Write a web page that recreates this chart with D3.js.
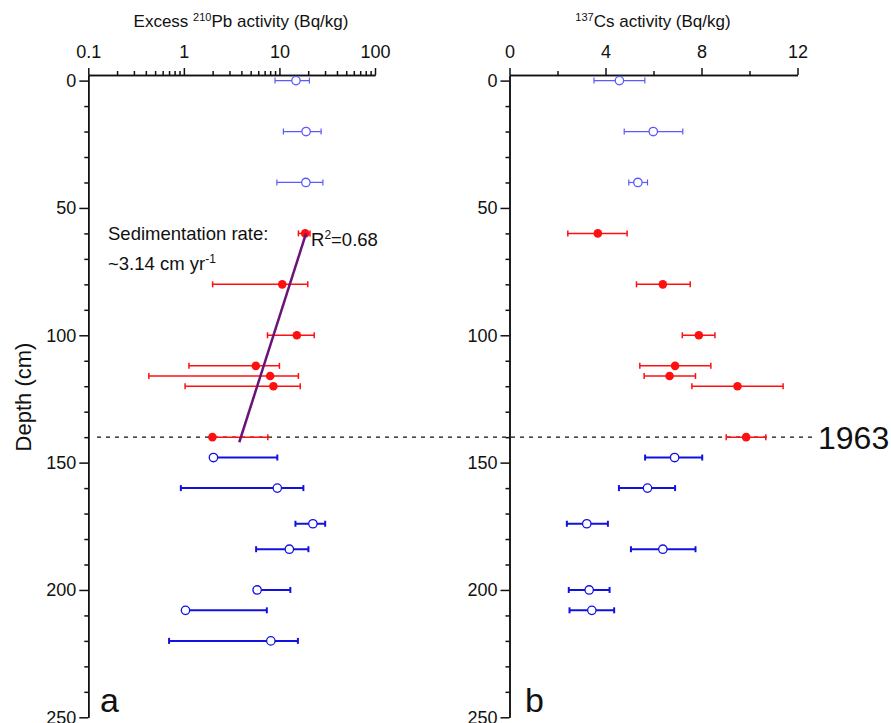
<!DOCTYPE html>
<html>
<head>
<meta charset="utf-8">
<script src="https://cdn.jsdelivr.net/npm/d3@7"></script>
<style>
  body { margin: 0; background: #fff; }
  text { font-family: "Liberation Sans", Arial, sans-serif; fill: #111; }
</style>
</head>
<body>
<svg id="chart" width="891" height="723"></svg>
<script>
// ---- data ----
// excess 210Pb (log scale), depth in cm
var pbDepth = [0, 20, 40, 60, 80, 100, 112, 116, 120, 140, 148, 160, 174, 184, 200, 208, 220];
var pbVal   = [14.9, 19.0, 18.9, 18.6, 10.7, 15.2, 5.66, 8.0, 8.65, 1.99, 2.04, 9.5, 22.4, 12.7, 5.84, 1.04, 8.13];
var pbLo    = [9.0, 11.0, 9.4, 15.8, 2.0, 7.5, 1.13, 0.43, 1.03, 1.99, 2.04, 0.93, 14.7, 5.7, 5.84, 1.04, 0.70];
var pbHi    = [20.6, 27.3, 28.5, 20.9, 19.8, 23.1, 10.0, 15.8, 16.5, 7.56, 9.5, 17.8, 30.1, 20.1, 13.0, 7.38, 15.6];
var pbGroup = ["top", "top", "top", "red", "red", "red", "red", "red", "red", "red",
               "low", "low", "low", "low", "low", "low", "low"];

// 137Cs (linear scale)
var csDepth = [0, 20, 40, 60, 80, 100, 112, 116, 120, 140, 148, 160, 174, 184, 200, 208];
var csVal   = [4.58, 5.99, 5.35, 3.68, 6.39, 7.89, 6.90, 6.67, 9.5, 9.86, 6.88, 5.75, 3.22, 6.39, 3.32, 3.43];
var csLo    = [3.52, 4.78, 4.97, 2.43, 5.29, 7.2, 5.43, 5.61, 7.6, 9.03, 5.65, 4.56, 2.39, 5.06, 2.47, 2.5];
var csHi    = [5.64, 7.22, 5.75, 4.90, 7.53, 8.56, 8.39, 7.75, 11.4, 10.68, 8.03, 6.9, 4.1, 7.75, 4.17, 4.36];
var csGroup = ["top", "top", "top", "red", "red", "red", "red", "red", "red", "red",
               "low", "low", "low", "low", "low", "low"];

// fitted line for sedimentation rate
var fitDepth = [60, 142];
var fitPb = [19.0, 3.8];

var pbTicks = [0.1, 1, 10, 100];
var csTicks = [0, 4, 8, 12];
var depthTicks = [0, 50, 100, 150, 200, 250];
var year1963 = 140;

var COLORS = { top: "#5a5aff", red: "#ff1010", low: "#1212e0" };
var BAR_W = { top: 1.2, red: 1.5, low: 2 };

var svg = d3.select("#chart");
svg.append("rect").attr("width", 891).attr("height", 723).attr("fill", "#fff");

var y = d3.scaleLinear().domain([-2.2, 250]).range([75, 717.3]);
var xPb = d3.scaleLog().domain([0.1, 100]).range([88.3, 375]);
var xCs = d3.scaleLinear().domain([0, 12]).range([509.5, 797.5]);

function styleAxis(sel) {
  sel.selectAll("path, line").attr("stroke", "#111").attr("stroke-width", 1.5);
  sel.selectAll("text").style("font-size", "18px").attr("fill", "#111");
}

function drawFrame(x, x0, minorX, majorX, fmt) {
  // top axis, minor then major
  svg.append("g").attr("transform", "translate(0,75)")
    .call(d3.axisTop(x).tickValues(minorX).tickSize(4).tickSizeOuter(0).tickFormat(""))
    .call(styleAxis);
  svg.append("g").attr("transform", "translate(0,75)")
    .call(d3.axisTop(x).tickValues(majorX).tickSize(7).tickSizeOuter(0).tickPadding(10).tickFormat(fmt))
    .call(styleAxis);
  // left axis
  var minorY = d3.range(0, 251, 10).filter(function(d) { return d % 50 !== 0; });
  svg.append("g").attr("transform", "translate(" + x0 + ",0)")
    .call(d3.axisLeft(y).tickValues(minorY).tickSize(4).tickSizeOuter(0).tickFormat(""))
    .call(styleAxis);
  svg.append("g").attr("transform", "translate(" + x0 + ",0)")
    .call(d3.axisLeft(y).tickValues(depthTicks).tickSize(9).tickSizeOuter(0).tickPadding(3))
    .call(styleAxis);
}

function drawPoints(x, depth, val, lo, hi, group) {
  var g = svg.append("g");
  for (var i = 0; i < depth.length; i++) {
    var c = COLORS[group[i]], w = BAR_W[group[i]], yy = y(depth[i]);
    g.append("line").attr("x1", x(lo[i])).attr("x2", x(hi[i]))
      .attr("y1", yy).attr("y2", yy).attr("stroke", c).attr("stroke-width", w);
    if (lo[i] < val[i]) {
      g.append("line").attr("x1", x(lo[i])).attr("x2", x(lo[i]))
        .attr("y1", yy - 3).attr("y2", yy + 3).attr("stroke", c).attr("stroke-width", w);
    }
    g.append("line").attr("x1", x(hi[i])).attr("x2", x(hi[i]))
      .attr("y1", yy - 3).attr("y2", yy + 3).attr("stroke", c).attr("stroke-width", w);
    if (group[i] === "red") {
      g.append("circle").attr("cx", x(val[i])).attr("cy", yy).attr("r", 4.3).attr("fill", c);
    } else {
      g.append("circle").attr("cx", x(val[i])).attr("cy", yy).attr("r", 4.2)
        .attr("fill", "#fff").attr("stroke", c).attr("stroke-width", 1.3);
    }
  }
}

// log minor ticks
var pbMinor = [];
[0.1, 1, 10].forEach(function(b) { for (var k = 2; k <= 9; k++) pbMinor.push(b * k); });

drawFrame(xPb, 88.3, pbMinor, pbTicks, function(d) { return d < 1 ? "0.1" : d3.format("d")(d); });
drawFrame(xCs, 509.5, [2, 6, 10], csTicks, d3.format("d"));

// 1963 marker
svg.append("line").attr("x1", 97).attr("x2", 815)
  .attr("y1", y(year1963)).attr("y2", y(year1963))
  .attr("stroke", "#111").attr("stroke-width", 1.3).attr("stroke-dasharray", "4,5");
svg.append("text").attr("x", 818).attr("y", y(year1963) + 12)
  .style("font-size", "32px").text("1963");

drawPoints(xPb, pbDepth, pbVal, pbLo, pbHi, pbGroup);
drawPoints(xCs, csDepth, csVal, csLo, csHi, csGroup);

// regression line
svg.append("line")
  .attr("x1", xPb(fitPb[0])).attr("y1", y(fitDepth[0]))
  .attr("x2", xPb(fitPb[1])).attr("y2", y(fitDepth[1]))
  .attr("stroke", "#6a1478").attr("stroke-width", 2.5);

// titles
var t1 = svg.append("text").attr("x", 241).attr("y", 27).attr("text-anchor", "middle").style("font-size", "17px");
t1.append("tspan").text("Excess ");
t1.append("tspan").attr("dy", -6).style("font-size", "11px").text("210");
t1.append("tspan").attr("dy", 6).text("Pb activity (Bq/kg)");

var t2 = svg.append("text").attr("x", 653).attr("y", 27).attr("text-anchor", "middle").style("font-size", "17px");
t2.append("tspan").attr("dy", -6).style("font-size", "11px").text("137");
t2.append("tspan").attr("dy", 6).text("Cs activity (Bq/kg)");

svg.append("text").attr("transform", "translate(31,397) rotate(-90)")
  .attr("text-anchor", "middle").style("font-size", "22px").text("Depth (cm)");

// annotations
svg.append("text").attr("x", 108).attr("y", 240).style("font-size", "18.5px").text("Sedimentation rate:");
var t3 = svg.append("text").attr("x", 108).attr("y", 270).style("font-size", "18.5px");
t3.append("tspan").text("~3.14 cm yr");
t3.append("tspan").attr("dy", -7).style("font-size", "12px").text("-1");
var t4 = svg.append("text").attr("x", 311).attr("y", 246).style("font-size", "18.5px");
t4.append("tspan").text("R");
t4.append("tspan").attr("dy", -7).style("font-size", "12px").text("2");
t4.append("tspan").attr("dy", 7).text("=0.68");

svg.append("text").attr("x", 100).attr("y", 712).style("font-size", "34px").text("a");
svg.append("text").attr("x", 525).attr("y", 712).style("font-size", "34px").text("b");
</script>
</body>
</html>
